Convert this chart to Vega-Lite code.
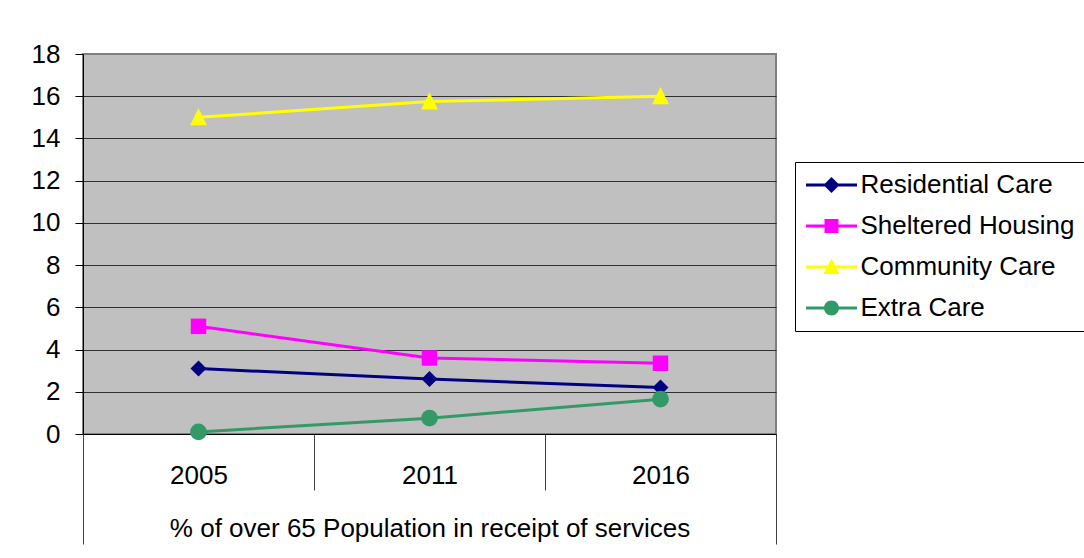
{
  "$schema": "https://vega.github.io/schema/vega-lite/v6.json",
  "width": 693,
  "height": 380,
  "autosize": {"type": "none"},
  "padding": {"left": 83, "top": 54, "right": 308, "bottom": 124},
  "background": "white",
  "config": {
    "font": "Liberation Sans",
    "view": {"fill": "#c0c0c0", "stroke": "#808080", "strokeWidth": 2}
  },
  "data": {
    "values": [
      {"year": "2005", "series": "Residential Care", "value": 3.1},
      {"year": "2011", "series": "Residential Care", "value": 2.6},
      {"year": "2016", "series": "Residential Care", "value": 2.2},
      {"year": "2005", "series": "Sheltered Housing", "value": 5.1},
      {"year": "2011", "series": "Sheltered Housing", "value": 3.6},
      {"year": "2016", "series": "Sheltered Housing", "value": 3.35},
      {"year": "2005", "series": "Community Care", "value": 15.0},
      {"year": "2011", "series": "Community Care", "value": 15.75},
      {"year": "2016", "series": "Community Care", "value": 16.0},
      {"year": "2005", "series": "Extra Care", "value": 0.1},
      {"year": "2011", "series": "Extra Care", "value": 0.75},
      {"year": "2016", "series": "Extra Care", "value": 1.65}
    ]
  },
  "encoding": {
    "x": {
      "field": "year",
      "type": "ordinal",
      "bandPosition": 0.5,
      "scale": {"type": "band", "paddingInner": 0, "paddingOuter": 0},
      "axis": {
        "title": "% of over 65 Population in receipt of services",
        "titleFontSize": 26,
        "titleFontWeight": "normal",
        "titleColor": "black",
        "titleY": 102,
        "titleBaseline": "alphabetic",
        "labelAngle": 0,
        "labelFontSize": 26,
        "labelColor": "black",
        "labelBaseline": "alphabetic",
        "labelPadding": {"condition": {"test": "datum.value === '2016'", "value": -61}, "value": -7},
        "tickBand": "extent",
        "tickSize": {"condition": {"test": "datum.value === '2016' || datum.value == null", "value": 110}, "value": 56},
        "tickColor": "#404040",
        "tickWidth": 1,
        "domainColor": "black",
        "domainWidth": 1,
        "grid": false
      }
    },
    "y": {
      "field": "value",
      "type": "quantitative",
      "scale": {"domain": [0, 18], "nice": false},
      "axis": {
        "title": null,
        "values": [0, 2, 4, 6, 8, 10, 12, 14, 16, 18],
        "labelFontSize": 26,
        "labelColor": "black",
        "labelPadding": 15,
        "tickSize": 8,
        "tickColor": "black",
        "domainColor": "black",
        "grid": true,
        "gridColor": {"condition": {"test": "datum.value === 18", "value": "#808080"}, "value": "#303030"},
        "gridWidth": 1,
        "gridOpacity": 1
      }
    }
  },
  "layer": [
    {
      "mark": {"type": "point", "filled": true, "opacity": 0, "size": 400},
      "encoding": {
        "color": {
          "field": "series",
          "type": "nominal",
          "scale": {
            "domain": ["Residential Care", "Sheltered Housing", "Community Care", "Extra Care"],
            "range": ["#000080", "#ff00ff", "#ffff00", "#339966"]
          },
          "legend": {
            "title": null,
            "orient": "none",
            "legendX": 712,
            "legendY": 108,
            "padding": 10,
            "strokeColor": "black",
            "fillColor": "white",
            "labelFontSize": 26,
            "labelColor": "black",
            "labelFont": "Liberation Sans",
            "labelLimit": 400,
            "symbolSize": 400,
            "symbolOpacity": 1,
            "symbolStrokeWidth": 0,
            "symbolOffset": 13.5,
            "labelOffset": 16,
            "rowPadding": 15
          }
        },
        "shape": {
          "field": "series",
          "type": "nominal",
          "scale": {
            "domain": ["Residential Care", "Sheltered Housing", "Community Care", "Extra Care"],
            "range": [
              "M-2.55,-0.15H2.55V0.15H-2.55ZM-0.8,0L0,-0.8L0.8,0L0,0.8Z",
              "M-2.55,-0.15H2.55V0.15H-2.55ZM-0.7,-0.7H0.7V0.7H-0.7Z",
              "M-2.55,-0.15H2.55V0.15H-2.55ZM0,-0.85L0.8,0.7H-0.8Z",
              "M-2.55,-0.15H2.55V0.15H-2.55ZM-0.75,0A0.75,0.75,0,1,1,0.75,0A0.75,0.75,0,1,1,-0.75,0Z"
            ]
          },
          "legend": null
        }
      }
    },
    {
      "mark": {"type": "line", "strokeWidth": 3},
      "encoding": {
        "stroke": {
          "field": "series",
          "type": "nominal",
          "scale": {
            "domain": ["Residential Care", "Sheltered Housing", "Community Care", "Extra Care"],
            "range": ["#000080", "#ff00ff", "#ffff00", "#339966"]
          },
          "legend": null
        }
      }
    },
    {
      "transform": [{"filter": "datum.series === 'Residential Care'"}],
      "mark": {"type": "point", "filled": true, "opacity": 1, "shape": "diamond", "size": 256, "fill": "#000080"}
    },
    {
      "transform": [{"filter": "datum.series === 'Sheltered Housing'"}],
      "mark": {"type": "point", "filled": true, "opacity": 1, "shape": "square", "size": 240, "fill": "#ff00ff"}
    },
    {
      "transform": [{"filter": "datum.series === 'Community Care'"}],
      "mark": {"type": "point", "filled": true, "opacity": 1, "shape": "M0,-1.15L1.05,1H-1.05Z", "size": 256, "fill": "#ffff00"}
    },
    {
      "transform": [{"filter": "datum.series === 'Extra Care'"}],
      "mark": {"type": "point", "filled": true, "opacity": 1, "shape": "circle", "size": 280, "fill": "#339966"}
    }
  ]
}
